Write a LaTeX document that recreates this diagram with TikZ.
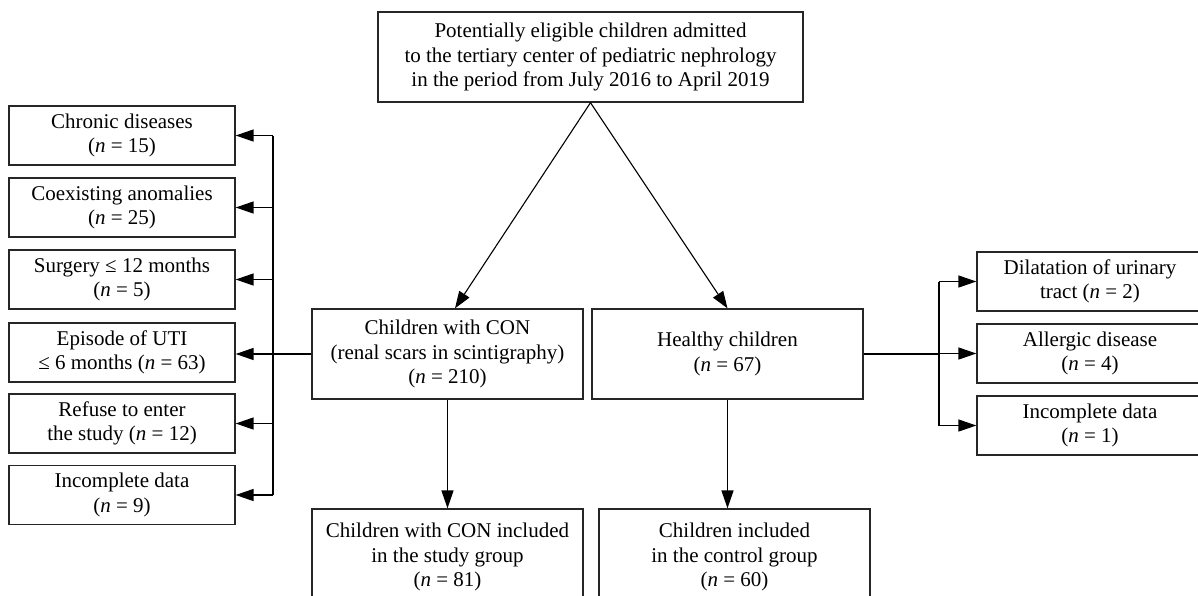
\documentclass[tikz,border=0pt]{standalone}
\usepackage{fontspec}
\setmainfont{Liberation Serif}
\usetikzlibrary{arrows.meta}
\begin{document}
\begin{tikzpicture}[x=1pt,y=-1pt,
  box/.style={draw=black!85, line width=1.3pt, align=center, inner sep=0pt, font=\fontsize{21}{24.5}\selectfont},
  lbox/.style={box, minimum width=226pt, minimum height=59pt},
  mbox/.style={box, minimum width=271pt, minimum height=90pt},
  bbox/.style={box, minimum width=271pt, minimum height=96pt},
  conn/.style={line width=1.5pt},
  arr/.style={conn, -{Triangle[length=18pt,width=12pt]}},
  diag/.style={line width=1.1pt, -{Triangle[length=17pt,width=12pt]}}]
\clip (0,0) rectangle (1198,595);
\fill[white] (0,0) rectangle (1198,595);

% main column
\node[box, minimum width=425pt, minimum height=90pt] (top) at (590.5,57)
  {Potentially eligible children admitted\\to the tertiary center of pediatric nephrology\\in the period from July 2016 to April 2019};
\node[mbox] (con) at (447.5,354) {Children with CON\\(renal scars in scintigraphy)\\(\textit{n} = 210)};
\node[mbox] (hea) at (727.5,354) {Healthy children\\(\textit{n} = 67)};
\node[bbox] (study) at (447.5,557) {Children with CON included\\in the study group\\(\textit{n} = 81)};
\node[bbox] (ctrl) at (734.5,557) {Children included\\in the control group\\(\textit{n} = 60)};

% left exclusions
\node[lbox] (l1) at (122,135.5) {Chronic diseases\\(\textit{n} = 15)};
\node[lbox] (l2) at (122,207.5) {Coexisting anomalies\\(\textit{n} = 25)};
\node[lbox] (l3) at (122,279.5) {Surgery ≤ 12 months\\(\textit{n} = 5)};
\node[lbox] (l4) at (122,352.5) {Episode of UTI\\≤ 6 months (\textit{n} = 63)};
\node[lbox] (l5) at (122,423.5) {Refuse to enter\\the study (\textit{n} = 12)};
\node[lbox] (l6) at (122,495) {Incomplete data\\(\textit{n} = 9)};

% right exclusions
\node[lbox] (r1) at (1090,281.5) {Dilatation of urinary\\tract (\textit{n} = 2)};
\node[lbox] (r2) at (1090,353.5) {Allergic disease\\(\textit{n} = 4)};
\node[lbox] (r3) at (1090,425.5) {Incomplete data\\(\textit{n} = 1)};

\coordinate (bl) at (273,0);
\coordinate (br) at (939,0);

% connectors
\draw[diag] (top.south) -- ([xshift=7.5pt]con.north);
\draw[diag] (top.south) -- (hea.north);
\draw[arr] (con.south) -- (study.north);
\draw[arr] (hea.south) -- (hea.south |- ctrl.north);

\draw[conn] (bl |- l1.east) -- (bl |- l6.east);
\draw[arr] (bl |- l1.east) -- (l1.east);
\draw[arr] (bl |- l2.east) -- (l2.east);
\draw[arr] (bl |- l3.east) -- (l3.east);
\draw[arr] (con.west) -- (con.west -| l4.east);
\draw[arr] (bl |- l5.east) -- (l5.east);
\draw[arr] (bl |- l6.east) -- (l6.east);

\draw[conn] (br |- r1.west) -- (br |- r3.west);
\draw[conn] (hea.east) -- (hea.east -| br);
\draw[arr] (br |- r1.west) -- (r1.west);
\draw[arr] (br |- r2.west) -- (r2.west);
\draw[arr] (br |- r3.west) -- (r3.west);
\end{tikzpicture}
\end{document}
